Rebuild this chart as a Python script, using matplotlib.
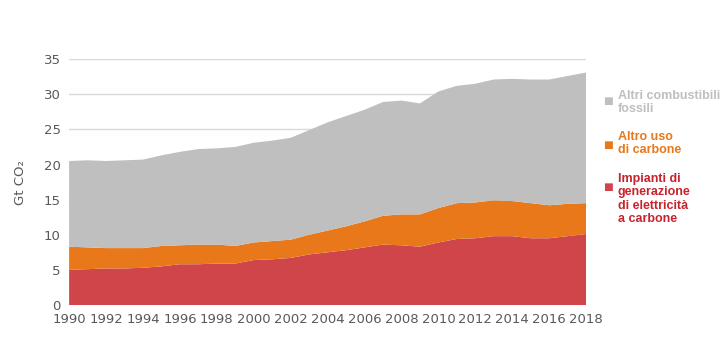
import matplotlib
matplotlib.use('Agg')
import matplotlib.pyplot as plt

# Emissions by source, Gt CO2
years = list(range(1990, 2019))
coal_power = [5.0, 5.1, 5.2, 5.2, 5.3, 5.5, 5.8, 5.8, 5.9, 5.9,
              6.4, 6.5, 6.7, 7.2, 7.5, 7.8, 8.2, 8.6, 8.5, 8.3,
              8.9, 9.4, 9.5, 9.8, 9.8, 9.5, 9.5, 9.8, 10.1]
coal_total = [8.3, 8.2, 8.1, 8.1, 8.1, 8.4, 8.5, 8.6, 8.6, 8.4,
              8.9, 9.1, 9.3, 10.0, 10.6, 11.2, 11.9, 12.7, 12.9, 12.9,
              13.8, 14.5, 14.6, 14.9, 14.8, 14.5, 14.2, 14.4, 14.5]
total = [20.5, 20.6, 20.5, 20.6, 20.7, 21.3, 21.8, 22.2, 22.3, 22.5,
         23.1, 23.4, 23.8, 24.9, 26.0, 26.9, 27.8, 28.9, 29.1, 28.7,
         30.4, 31.2, 31.5, 32.1, 32.2, 32.1, 32.1, 32.6, 33.1]

coal_other = [t - p for t, p in zip(coal_total, coal_power)]
other_fossil = [t - c for t, c in zip(total, coal_total)]

labels = ['Impianti di\ngenerazione\ndi elettricità\na carbone',
          'Altro uso\ndi carbone',
          'Altri combustibili\nfossili']
colors = ['#D0454A', '#E8781A', '#BFBFBF']
text_colors = ['#C8232C', '#E8781A', '#BFBFBF']

fig = plt.figure(figsize=(7.2, 3.4), dpi=100)
ax = fig.add_axes([0.096, 0.103, 0.718, 0.723])

ax.stackplot(years, coal_power, coal_other, other_fossil,
             colors=colors, linewidth=0, zorder=2)

ax.set_xlim(1990, 2018)
ax.set_ylim(0, 35)
ax.set_xticks(range(1990, 2019, 2))
ax.set_yticks(range(0, 36, 5))
ax.grid(axis='y', color='#D9D9D9', linewidth=1, zorder=0)
for s in ax.spines.values():
    s.set_visible(False)
ax.tick_params(length=0, labelsize=9.5, labelcolor='#595959', pad=6)
ax.set_ylabel('Gt CO₂', fontsize=9.5, color='#595959', labelpad=12)

# legend: coloured square + text block (top of text, square centre)
legend_pos = [(0.491, 0.45), (0.615, 0.574), (0.735, 0.703)]
for idx, (ytext, ysq) in enumerate(legend_pos):
    fig.text(0.845, ysq, '\u25A0', color=colors[idx], fontsize=7.5,
             va='center', ha='center')
    fig.text(0.858, ytext, labels[idx], color=text_colors[idx], fontsize=9,
             fontweight='bold', family='Liberation Sans',
             va='top', ha='left', linespacing=1.15)

fig.savefig('out.png', dpi=100)
